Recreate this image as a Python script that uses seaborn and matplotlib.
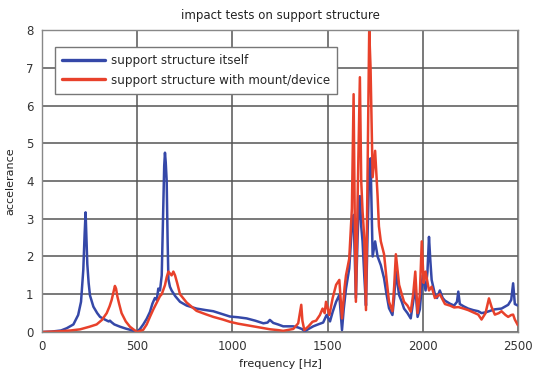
import numpy as np
import pandas as pd
import matplotlib
matplotlib.use("Agg")
import matplotlib.pyplot as plt
import seaborn as sns

title = "impact tests on support structure"
x_label = "frequency [Hz]"
y_label = "accelerance"
series_names = ["support structure itself", "support structure with mount/device"]
x_ticks = [0, 500, 1000, 1500, 2000, 2500]
y_ticks = [0, 1, 2, 3, 4, 5, 6, 7, 8]

blue_freq = [0, 50, 100, 130, 165, 190, 205, 217, 224, 229, 234, 238, 245, 252, 270, 290, 305, 330,
             350, 357, 365, 380, 410, 440, 462, 480, 497, 515, 532, 550, 567, 580, 593, 603, 611, 620,
             629, 637, 642, 646, 650, 655, 660, 664, 672, 681, 700, 725, 760, 812, 860, 900, 950, 987,
             1030, 1075, 1120, 1163, 1185, 1197, 1215, 1240, 1267, 1300, 1320, 1345, 1365, 1381, 1400,
             1425, 1450, 1477, 1495, 1513, 1527, 1545, 1562, 1576, 1585, 1597, 1614, 1628, 1637, 1643,
             1649, 1658, 1664, 1670, 1677, 1684, 1693, 1702, 1710, 1719, 1726, 1737, 1750, 1763, 1780,
             1797, 1810, 1823, 1841, 1850, 1859, 1876, 1890, 1902, 1920, 1937, 1950, 1961, 1973, 1985,
             2000, 2015, 2025, 2033, 2040, 2047, 2064, 2075, 2090, 2105, 2117, 2143, 2165, 2180, 2187,
             2195, 2215, 2239, 2265, 2292, 2309, 2330, 2348, 2379, 2414, 2449, 2465, 2475, 2484, 2500]
blue_acc = [0.0, 0.01, 0.04, 0.1, 0.2, 0.45, 0.8, 1.65, 2.6, 3.17, 2.4, 1.8, 1.3, 0.97, 0.67, 0.5, 0.4, 0.33,
            0.28, 0.3, 0.26, 0.2, 0.14, 0.09, 0.06, 0.03, 0.0, 0.08, 0.2, 0.35, 0.53, 0.75, 0.9, 0.85, 1.15, 1.1,
            1.5, 3.3, 4.4, 4.75, 4.5, 4.0, 2.4, 1.4, 1.2, 1.1, 0.95, 0.8, 0.7, 0.62, 0.58, 0.55, 0.47, 0.41,
            0.39, 0.36, 0.3, 0.23, 0.25, 0.32, 0.24, 0.2, 0.15, 0.15, 0.15, 0.12, 0.08, 0.02, 0.08,
            0.15, 0.2, 0.25, 0.45, 0.28, 0.53, 0.8, 0.98, 0.05, 0.6, 1.15, 1.68, 2.8, 3.1, 2.0,
            0.9, 2.5, 3.3, 3.6, 2.8, 2.4, 1.5, 0.7, 2.5, 4.3, 4.6, 2.0, 2.4, 2.0, 1.77,
            1.42, 1.0, 0.63, 0.45, 0.9, 1.6, 0.98, 0.8, 0.62, 0.5, 0.36, 0.8, 1.2, 0.4, 0.6,
            1.5, 1.1, 1.6, 2.52, 1.9, 1.38, 1.0, 0.9, 1.1, 0.9, 0.83, 0.75, 0.7, 0.8, 1.07,
            0.74, 0.68, 0.62, 0.58, 0.55, 0.5, 0.52, 0.55, 0.6, 0.62, 0.72, 0.85, 1.29, 0.74, 0.7]

red_freq = [0, 100, 150, 200, 250, 287, 315, 340, 355, 366, 375, 383, 389, 396, 405, 418, 440, 462, 480,
            500, 532, 550, 567, 585, 605, 620, 629, 646, 655, 664, 672, 681, 690, 699, 710, 725, 760, 812,
            860, 900, 950, 987, 1030, 1075, 1120, 1163, 1200, 1240, 1267, 1300, 1320, 1346, 1355, 1362,
            1368, 1378, 1400, 1421, 1440, 1460, 1474, 1485, 1492, 1510, 1527, 1545, 1562, 1576, 1590,
            1597, 1614, 1628, 1637, 1643, 1649, 1658, 1670, 1677, 1684, 1693, 1702, 1710, 1719, 1726,
            1737, 1750, 1763, 1770, 1780, 1797, 1810, 1823, 1841, 1850, 1859, 1876, 1890, 1902, 1920,
            1937, 1950, 1961, 1973, 1985, 1995, 2005, 2015, 2033, 2047, 2064, 2090, 2117, 2143, 2165,
            2187, 2215, 2239, 2265, 2292, 2309, 2330, 2348, 2362, 2379, 2400, 2414, 2435, 2449, 2465,
            2475, 2484, 2500]
red_acc = [0.0, 0.02, 0.04, 0.07, 0.14, 0.2, 0.32, 0.5, 0.68, 0.85, 1.05, 1.22, 1.15, 0.94, 0.75, 0.5, 0.28, 0.14, 0.07,
           0.0, 0.06, 0.2, 0.4, 0.6, 0.8, 0.95, 1.0, 1.24, 1.45, 1.6, 1.55, 1.5, 1.6, 1.5, 1.3, 1.0, 0.78, 0.56,
           0.47, 0.4, 0.33, 0.27, 0.22, 0.18, 0.14, 0.1, 0.07, 0.05, 0.03, 0.06, 0.08, 0.23, 0.5, 0.72,
           0.3, 0.05, 0.15, 0.27, 0.3, 0.45, 0.62, 0.5, 0.8, 0.45, 0.9, 1.25, 1.38, 0.36, 1.2,
           1.5, 1.94, 3.27, 6.3, 3.0, 0.8, 3.5, 6.75, 4.0, 3.2, 2.5, 0.58, 4.0, 8.0, 7.0,
           4.1, 4.8, 3.6, 2.8, 2.4, 2.06, 1.4, 0.8, 0.55, 1.2, 2.06, 1.25, 1.0, 0.8, 0.7,
           0.54, 1.0, 1.6, 0.5, 1.0, 2.4, 1.3, 1.6, 1.1, 1.2, 0.9, 1.0, 0.74, 0.7, 0.65,
           0.66, 0.62, 0.58, 0.52, 0.46, 0.33, 0.5, 0.89, 0.66, 0.46, 0.5, 0.55, 0.45, 0.4, 0.45,
           0.46, 0.33, 0.18]

df = pd.concat([
    pd.DataFrame({"freq": blue_freq, "acc": blue_acc, "series": series_names[0]}),
    pd.DataFrame({"freq": red_freq, "acc": red_acc, "series": series_names[1]}),
], ignore_index=True)

sns.set_style("white")
plt.rcParams["font.family"] = ["DejaVu Sans"]

fig = plt.figure(figsize=(5.35, 3.85), dpi=100)
ax = fig.add_axes([0.0785, 0.1377, 0.8895, 0.7843])

palette = {series_names[0]: "#3548a8", series_names[1]: "#e8412b"}
sns.lineplot(data=df, x="freq", y="acc", hue="series", palette=palette, estimator=None,
             sort=False, linewidth=1.8, ax=ax, legend=False)

ax.set_xlim(0, 2500)
ax.set_ylim(0, 8)
ax.set_xticks(x_ticks)
ax.set_yticks(y_ticks)
ax.grid(True, color="#555555", linewidth=1.1)
ax.set_axisbelow(True)
for s in ax.spines.values():
    s.set_color("#888888")
    s.set_linewidth(1.0)
ax.tick_params(axis="both", length=0, labelsize=8.5, colors="#333333", pad=6)

ax.set_title(title, fontsize=8.5, color="#222222", pad=8)
ax.set_xlabel(x_label, fontsize=8, color="#222222", labelpad=4)
ax.set_ylabel(y_label, fontsize=8, color="#222222", labelpad=8)

handles = [plt.Line2D([], [], color=palette[n], linewidth=2.4) for n in series_names]
leg = ax.legend(handles, series_names, loc="upper left", bbox_to_anchor=(0.027, 0.944),
                fontsize=8.6, frameon=True, fancybox=False, edgecolor="#777777",
                framealpha=1.0, handlelength=3.6, labelspacing=0.55, borderpad=0.6,
                handletextpad=0.5, borderaxespad=0)
leg.get_frame().set_linewidth(1.0)

fig.savefig("out.png", dpi=100)
